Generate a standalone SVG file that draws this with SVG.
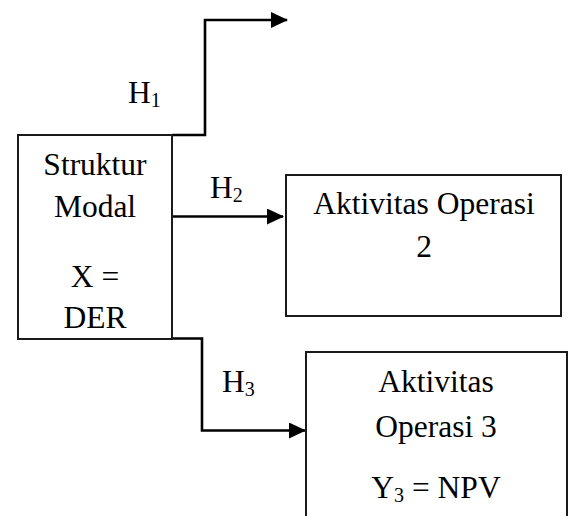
<svg xmlns="http://www.w3.org/2000/svg" width="571" height="516" viewBox="0 0 571 516">
<style>
.box{fill:#fff;stroke:#1a1a1a;stroke-width:2}
.con{fill:none;stroke:#000;stroke-width:2.6}
text{font-family:'Liberation Serif','Times New Roman',serif;font-size:31.5px;fill:#000}
.c{text-anchor:middle}
.sub{font-size:20px}
</style>
<defs>
<marker id="ah" markerWidth="17" markerHeight="16" refX="16" refY="8" orient="auto" markerUnits="userSpaceOnUse">
<path d="M0,0 L17,8 L0,16 Z" fill="#000"/>
</marker>
</defs>
<rect width="571" height="516" fill="#fff"/>
<g id="connectors">
<polyline class="con" points="172,135 205,135 205,20 287,20" marker-end="url(#ah)"/>
<line class="con" x1="172" y1="216.5" x2="283" y2="216.5" marker-end="url(#ah)"/>
<polyline class="con" points="172,338.5 202,338.5 202,430.5 305,430.5" marker-end="url(#ah)"/>
<text x="128" y="103">H<tspan class="sub" dy="4">1</tspan></text>
<text x="210" y="198">H<tspan class="sub" dy="4">2</tspan></text>
<text x="222" y="392">H<tspan class="sub" dy="4">3</tspan></text>
</g>
<g id="node-struktur">
<rect class="box" x="18" y="135" width="154" height="204"/>
<text class="c" x="95" y="175">Struktur</text>
<text class="c" x="95" y="217">Modal</text>
<text class="c" x="95" y="287">X =</text>
<text class="c" x="95" y="328">DER</text>
</g>
<g id="node-op2">
<rect class="box" x="286" y="175" width="275" height="141"/>
<text class="c" x="424" y="214">Aktivitas Operasi</text>
<text class="c" x="424" y="257">2</text>
</g>
<g id="node-op3">
<rect class="box" x="306" y="352" width="261" height="180"/>
<text class="c" x="436" y="392">Aktivitas</text>
<text class="c" x="436" y="437">Operasi 3</text>
<text class="c" x="436" y="498">Y<tspan class="sub" dy="4">3</tspan><tspan dy="-4"> = NPV</tspan></text>
</g>
</svg>
